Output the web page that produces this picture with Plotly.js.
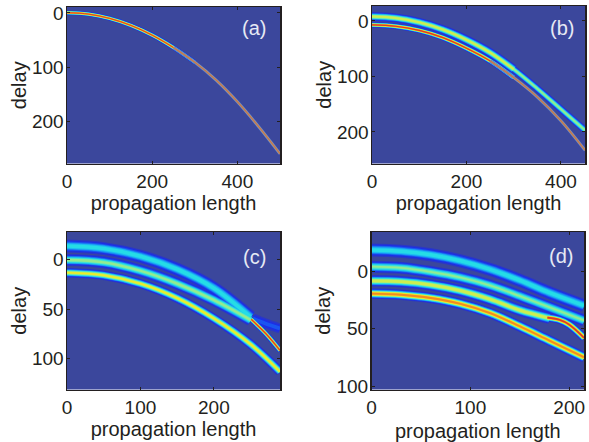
<!DOCTYPE html>
<html><head><meta charset="utf-8">
<script src="https://cdn.plot.ly/plotly-3.0.1.min.js"></script>
<style>html,body{margin:0;padding:0;background:#fff}#c{width:589px;height:442px}</style>
</head><body><div id="c"></div>
<script>
// Pulse-centre tracks (propagation length, delay)
var aNearL=[0,50,100,150,200,250,300];
var aNearD=[-0.5,2,10,23,41,64,91];
var aFarL=[250,300,350,400,450,500];
var aFarD=[64,91,124,164,210,260];
var bL=[0,50,100,150,200,250,300,350,400,451];
var bD1=[-8,-5.5,2.5,15.5,34,57,87,122,159,197];
var bNearL=[0,50,100,150,200,250,300];
var bNearD1=[-8,-5.5,2.5,15.5,34,57,87];
var bNearD2=[7,9.5,17,30,49,72,102];
var bFarL=[250,300,350,400,451];
var bFarD=[72,102,137,180,233];
var cL=[0,50,100,150,200,250];
var cD1=[-13.4,-10.8,-3,10,29,58];
var cD2=[0.7,3,11.5,24.5,41,61];
var cL3=[0,50,100,150,200,250,290];
var cD3=[13.4,16,24.5,39,59.5,85.5,113];
var cFaintL=[253,270,290];
var cFaintD=[59.5,64.5,69.5];
var cTailL=[251,271,290];
var cTailD=[60.5,75,91.6];
var dL=[0,30,60,90,120,150,180,215];
var dD1=[-18.4,-17.3,-14.2,-8.9,-1.5,8,18.8,30];
var dD2=[-3.8,-2.8,0.7,5.6,12.5,21.7,31.5,43];
var dL3=[0,30,60,90,120,150,180];
var dD3=[8.5,9.2,12,17,24.5,34,41];
var dTailL=[178,190,200,215];
var dTailD=[40.5,42.4,46.5,58];
var dD4=[19.6,20.6,23.4,28.5,36.5,48,60.5,75];
// Colour scale of the map: level and colour
var levels=[0.10,0.17,0.24,0.31,0.38,0.45,0.52,0.59,0.66,0.73,0.80,0.86,0.93];
var colors=['#2a36c8','#1c2fe6','#1a55f0','#1a8cf4','#1cbcf2','#25dce6','#55e8c4','#94ec8e','#cdee4e','#f2ec22','#f8c41e','#f28a22','#d83c2a'];
var bg='#3b479c', ink='#231f20';
var FONT='Liberation Sans, Arial, sans-serif';

var bands=[
 {ax:'',L:aNearL,D:aNearD,w:4.6,p:1},
 {ax:'2',L:bNearL,D:bNearD1,w:9,p:.72},
 {ax:'2',L:bL,D:bD1,w:7,p:.64},
 {ax:'2',L:bNearL,D:bNearD2,w:5.6,p:1},
 {ax:'3',L:cL,D:cD1,w:13,p:.5},
 {ax:'3',L:cL,D:cD2,w:12,p:.62},
 {ax:'3',L:cL3,D:cD3,w:9.5,p:.74},
 {ax:'3',L:cFaintL,D:cFaintD,w:10,p:.27},
 {ax:'3',L:cTailL,D:cTailD,w:5.5,p:1},
 {ax:'4',L:dL,D:dD1,w:13,p:.5},
 {ax:'4',L:dL,D:dD2,w:12,p:.6},
 {ax:'4',L:dL3,D:dD3,w:11.5,p:.72},
 {ax:'4',L:dTailL,D:dTailD,w:8,p:1},
 {ax:'4',L:dL,D:dD4,w:10.5,p:.9}
];
var traces=[];
// lowest levels first so the bright cores of every band stay on top
levels.forEach(function(v,i){
  bands.forEach(function(b){
    if(v>b.p) return;
    var f=Math.sqrt(Math.log(b.p/v+0.02)/Math.log(b.p/levels[0]+0.02));
    traces.push({x:b.L,y:b.D,xaxis:'x'+b.ax,yaxis:'y'+b.ax,type:'scatter',mode:'lines',
      hoverinfo:'skip',showlegend:false,
      line:{color:colors[i],width:b.w*f,shape:'spline',smoothing:1}});
  });
});
// far ends of the thinnest pulses are under-resolved and look muted
[{ax:'',L:aFarL,D:aFarD},{ax:'2',L:bFarL,D:bFarD}].forEach(function(t){
  [['#4a74d0',3.2],['#a89a90',2.2],['#c07a52',1.4]].forEach(function(s){
    traces.push({x:t.L,y:t.D,xaxis:'x'+t.ax,yaxis:'y'+t.ax,type:'scatter',mode:'lines',
      hoverinfo:'skip',showlegend:false,line:{color:s[0],width:s[1],shape:'spline',smoothing:1}});
  });
});
function ax(domain,range,tickvals,anchor,title,standoff){
  return {domain:domain,range:range,tickvals:tickvals,ticktext:tickvals.map(String),anchor:anchor,
    ticks:'inside',ticklen:3,tickwidth:1,tickcolor:ink,mirror:'ticks',showline:true,linecolor:ink,linewidth:1.5,
    showgrid:false,zeroline:false,tickfont:{family:FONT,size:19,color:ink},
    title:{text:title,standoff:standoff,font:{family:FONT,size:20,color:ink}}};
}
var W=589,H=442;
function xd(a,b){return [a/W,b/W];}
function yd(a,b){return [1-b/H,1-a/H];}
var layout={width:W,height:H,margin:{l:0,r:0,t:0,b:0},paper_bgcolor:'#fff',plot_bgcolor:bg,showlegend:false,
 xaxis: ax(xd(67,280),[0,500],[0,200,400],'y','propagation length',3),
 yaxis: ax(yd(7,163.5),[278,-11],[0,100,200],'x','delay',0),
 xaxis2:ax(xd(372,585),[0,451],[0,200,400],'y2','propagation length',3),
 yaxis2:ax(yd(6,163.5),[257,-27],[0,100,200],'x2','delay',0),
 xaxis3:ax(xd(67,280),[0,290],[0,100,200],'y3','propagation length',5),
 yaxis3:ax(yd(232,389.5),[131,-27.5],[0,50,100],'x3','delay',0),
 xaxis4:ax(xd(371.5,584),[0,215],[0,100,200],'y4','propagation length',9),
 yaxis4:ax(yd(232,389.5),[103,-34],[0,50,100],'x4','delay',0),
 annotations:[['(a)',254,28],['(b)',562,28],['(c)',254,257],['(d)',561,256]].map(function(a){
   return {text:a[0],x:a[1]/W,y:1-a[2]/H,xref:'paper',yref:'paper',showarrow:false,xanchor:'center',yanchor:'middle',
     font:{family:FONT,size:20,color:'#e6e9f4'}};
 })
};
['yaxis','yaxis2','yaxis3','yaxis4'].forEach(function(k){layout[k].ticklabelstandoff=-2;});
Plotly.newPlot('c',traces,layout,{displayModeBar:false,staticPlot:true});
</script></body></html>
